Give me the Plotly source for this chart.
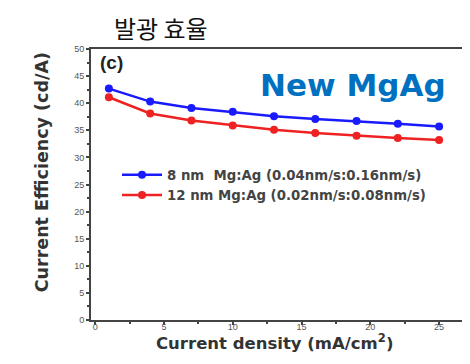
import plotly.graph_objects as go

x_vals = [1, 4, 7, 10, 13, 16, 19, 22, 25]
blue_vals = [42.7, 40.3, 39.1, 38.4, 37.6, 37.1, 36.7, 36.2, 35.7]
red_vals = [41.1, 38.1, 36.8, 35.9, 35.1, 34.5, 34.0, 33.6, 33.2]
blue_name = "8 nm  Mg:Ag (0.04nm/s:0.16nm/s)"
red_name = "12 nm Mg:Ag (0.02nm/s:0.08nm/s)"
x_ticks = [0, 5, 10, 15, 20, 25]
y_ticks = [0, 5, 10, 15, 20, 25, 30, 35, 40, 45, 50]

fig = go.Figure()
fig.add_trace(go.Scatter(x=x_vals, y=blue_vals, mode="lines+markers", name="<b>" + blue_name + "</b>",
                         line=dict(color="#1a1aff", width=2.5),
                         marker=dict(color="#1a1aff", size=8)))
fig.add_trace(go.Scatter(x=x_vals, y=red_vals, mode="lines+markers", name="<b>" + red_name + "</b>",
                         line=dict(color="#ee2222", width=2.5),
                         marker=dict(color="#ee2222", size=8)))

axis_common = dict(showline=True, linecolor="#444", linewidth=2, mirror=True,
                   ticks="outside", ticklen=3, tickwidth=1.5, tickcolor="#444",
                   showgrid=False, zeroline=False,
                   tickfont=dict(family="Liberation Sans", size=9, color="#555"))

fig.update_xaxes(range=[-0.3, 27.1], tickvals=x_ticks, ticklabelstandoff=-6,
                 minor=dict(dtick=2.5, ticks="outside", ticklen=2, tickcolor="#444"),
                 **axis_common)
fig.update_yaxes(range=[0, 50], tickvals=y_ticks,
                 minor=dict(dtick=2.5, ticks="outside", ticklen=2, tickcolor="#444"),
                 **axis_common)

# axis titles
fig.add_annotation(text="<b>Current density (mA/cm<sup>2</sup>)</b>", xref="paper", yref="paper",
                   x=0.487, y=0, xanchor="center", yanchor="top", yshift=-9, showarrow=False,
                   font=dict(family="DejaVu Sans", size=16.5, color="#333"))
fig.add_annotation(text="<b>Current Efficiency (cd/A)</b>", xref="paper", yref="paper",
                   x=-0.13, y=0.545, xanchor="center", yanchor="middle", textangle=-90,
                   showarrow=False,
                   font=dict(family="DejaVu Sans", size=17.5, color="#333"))

fig.add_annotation(text="발광 효율", xref="paper", yref="paper", x=0.055, y=1.0,
                   xanchor="left", yanchor="bottom", yshift=2, showarrow=False,
                   font=dict(family="Noto Sans CJK KR", size=24, color="#111"))
fig.add_annotation(text="<b>New MgAg</b>", xref="paper", yref="paper", x=0.948, y=0.866,
                   xanchor="right", yanchor="middle", showarrow=False,
                   font=dict(family="DejaVu Sans", size=31, color="#0070C0"))
fig.add_annotation(text="<b>(c)</b>", xref="paper", yref="paper", x=0.018, y=0.995,
                   xanchor="left", yanchor="top", showarrow=False,
                   font=dict(family="Liberation Sans", size=19, color="#222"))

fig.update_layout(
    width=470, height=364,
    margin=dict(l=83, r=8, t=41, b=52),
    paper_bgcolor="white", plot_bgcolor="white",
    legend=dict(x=0.069, y=0.498, xanchor="left", yanchor="middle",
                bgcolor="rgba(0,0,0,0)", tracegroupgap=0, itemwidth=40,
                font=dict(family="DejaVu Sans", size=13.3, color="#444")),
    showlegend=True,
)

fig.write_html("out.html")
